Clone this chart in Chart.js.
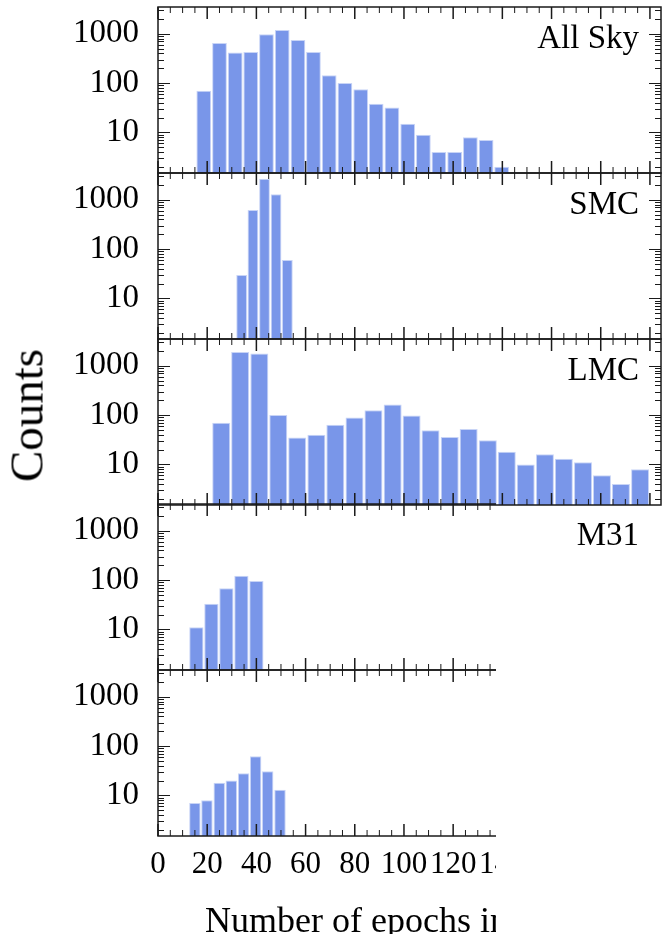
<!DOCTYPE html>
<html>
<head>
<meta charset="utf-8">
<script src="https://cdn.jsdelivr.net/npm/chart.js@4.4.1/dist/chart.umd.min.js"></script>
<style>
  body { margin: 0; background: #fff; }
  #page { position: relative; width: 662px; height: 934px; overflow: hidden;
          font-family: 'Liberation Serif', 'DejaVu Serif', serif; color: #000; }
  canvas { position: absolute; left: 0; }
  #lower { position: absolute; left: 0; top: 0; width: 496px; height: 934px; overflow: hidden; }
  .tag { position: absolute; left: 0; width: 639px; text-align: right;
         font-size: 33px; line-height: 33px; white-space: nowrap; }
  #ylab { position: absolute; left: -123px; top: 392px; width: 300px; height: 47px;
          line-height: 47px; font-size: 47px; text-align: center; transform: rotate(-90deg); }
  #xlab { position: absolute; left: 205px; top: 902px; font-size: 36px; line-height: 36px; white-space: nowrap; }
</style>
</head>
<body>
<div id="page">
  <canvas id="p0"></canvas>
  <canvas id="p1"></canvas>
  <canvas id="p2"></canvas>
  <div id="lower">
    <canvas id="p3"></canvas>
    <canvas id="p4"></canvas>
    <div id="xlab">Number of epochs in</div>
  </div>
  <div id="ylab">Counts</div>
</div>
<script>
// histogram bin centres (epochs) and counts per field
const allSkyBins = [18.6, 25.0, 31.4, 37.7, 44.1, 50.5, 56.9, 63.2, 69.6, 76.0,
                    82.4, 88.7, 95.1, 101.5, 107.9, 114.2, 120.6, 127.0, 133.4, 139.7];
const allSkyCounts = [70, 650, 420, 430, 980, 1200, 750, 430, 145, 100,
                      75, 38, 32, 15, 9, 4, 4, 8, 7, 2];

const smcBins = [34.0, 38.6, 43.3, 48.0, 52.6];
const smcCounts = [30, 620, 2670, 1300, 60];

const lmcBins = [25.7, 33.4, 41.2, 48.9, 56.6, 64.4, 72.1, 79.9, 87.6, 95.4, 103.1, 110.8,
                 118.6, 126.3, 134.1, 141.8, 149.5, 157.3, 165.0, 172.8, 180.5, 188.2, 196.0];
const lmcCounts = [70, 1900, 1780, 100, 35, 40, 64, 89, 126, 164, 98, 49,
                   36, 52, 31, 18, 10, 16, 13, 11, 6, 4, 8];

const m31Bins = [15.6, 21.7, 27.8, 33.9, 40.0];
const m31Counts = [11, 33, 68, 123, 96];

const lastBins = [15.0, 19.9, 24.9, 29.8, 34.8, 39.7, 44.6, 49.6];
const lastCounts = [7, 8, 18, 20, 28, 62, 31, 13];

const panelNames = ['All Sky', 'SMC', 'LMC', 'M31', ''];
const yTickValues = [10, 100, 1000];
const xTickStep = 20;

const FONT = "'Liberation Serif', 'DejaVu Serif', serif";
const BAR = 'rgb(121, 150, 233)';
const EDGE = 'rgb(200, 212, 246)';

// closed frame with inward ticks on all four sides
const frameTicks = {
  id: 'frameTicks',
  afterDatasetsDraw(chart) {
    const { ctx, chartArea: a, scales: { x, y } } = chart;
    ctx.save();
    ctx.strokeStyle = '#1a1a1a';
    for (let v = 0; v <= x.max; v += 5) {
      const px = x.getPixelForValue(v);
      const major = v % 20 === 0;
      const len = major ? 12 : 6;
      ctx.lineWidth = major ? 1.5 : 1;
      ctx.beginPath();
      ctx.moveTo(px, a.bottom); ctx.lineTo(px, a.bottom - len);
      ctx.moveTo(px, a.top); ctx.lineTo(px, a.top + len);
      ctx.stroke();
    }
    for (let d = 1; d <= 1000; d *= 10) {
      for (let m = 1; m <= 9; m++) {
        const v = d * m;
        if (v < y.min || v > y.max) continue;
        const py = Math.round(y.getPixelForValue(v)) + 0.5;
        const len = m === 1 ? 12 : 6;
        ctx.lineWidth = 1;
        ctx.beginPath();
        ctx.moveTo(a.left, py); ctx.lineTo(a.left + len, py);
        ctx.moveTo(a.right, py); ctx.lineTo(a.right - len, py);
        ctx.stroke();
      }
    }
    ctx.lineWidth = 1.5;
    ctx.strokeRect(a.left, a.top, a.right - a.left, a.bottom - a.top);
    ctx.restore();
  }
};

function makePanel(id, bins, counts, top, showX) {
  const canvas = document.getElementById(id);
  canvas.width = 662;
  canvas.height = showX ? 230 : 174;
  canvas.style.top = (top - 4) + 'px';
  new Chart(canvas, {
    type: 'bar',
    data: {
      datasets: [{
        data: bins.map((b, i) => ({ x: b, y: counts[i] })),
        backgroundColor: BAR,
        borderColor: EDGE,
        borderWidth: 1,
        borderSkipped: 'start',
        barPercentage: 0.95,
        categoryPercentage: 1
      }]
    },
    options: {
      responsive: false,
      animation: false,
      events: [],
      layout: { padding: { top: 4, bottom: showX ? 0 : 4, left: 0, right: 1 } },
      plugins: { legend: { display: false }, tooltip: { enabled: false } },
      scales: {
        x: {
          type: 'linear',
          offset: false,
          min: 0,
          max: 204.5,
          display: showX,
          grid: { display: false, drawTicks: false },
          border: { display: false },
          ticks: {
            stepSize: xTickStep,
            includeBounds: false,
            autoSkip: false,
            maxRotation: 0,
            minRotation: 0,
            padding: 10,
            color: '#000',
            font: { family: FONT, size: 31 }
          },
          afterFit: s => {
            s.height = showX ? 60 : 0;
            s.paddingLeft = 0;
            s.paddingRight = 0;
          }
        },
        y: {
          type: 'logarithmic',
          min: 1.5,
          max: 3500,
          grid: { display: false, drawTicks: false },
          border: { display: false },
          ticks: {
            padding: 19,
            autoSkip: false,
            color: '#000',
            font: { family: FONT, size: 33 },
            callback: v => String(v)
          },
          afterBuildTicks: s => { s.ticks = yTickValues.map(v => ({ value: v })); },
          afterFit: s => {
            s.width = 158;
            s.paddingTop = 0;
            s.paddingBottom = 0;
          }
        }
      }
    },
    plugins: [frameTicks]
  });
}

const panels = [
  ['p0', allSkyBins, allSkyCounts],
  ['p1', smcBins, smcCounts],
  ['p2', lmcBins, lmcCounts],
  ['p3', m31Bins, m31Counts],
  ['p4', lastBins, lastCounts]
];
const panelTops = [7, 173, 339, 504, 670];

panels.forEach(([id, bins, counts], i) => {
  makePanel(id, bins, counts, panelTops[i], i === panels.length - 1);
  if (panelNames[i]) {
    const tag = document.createElement('div');
    tag.className = 'tag';
    tag.style.top = (panelTops[i] + 14) + 'px';
    tag.textContent = panelNames[i];
    document.getElementById('page').appendChild(tag);
  }
});
</script>
</body>
</html>
